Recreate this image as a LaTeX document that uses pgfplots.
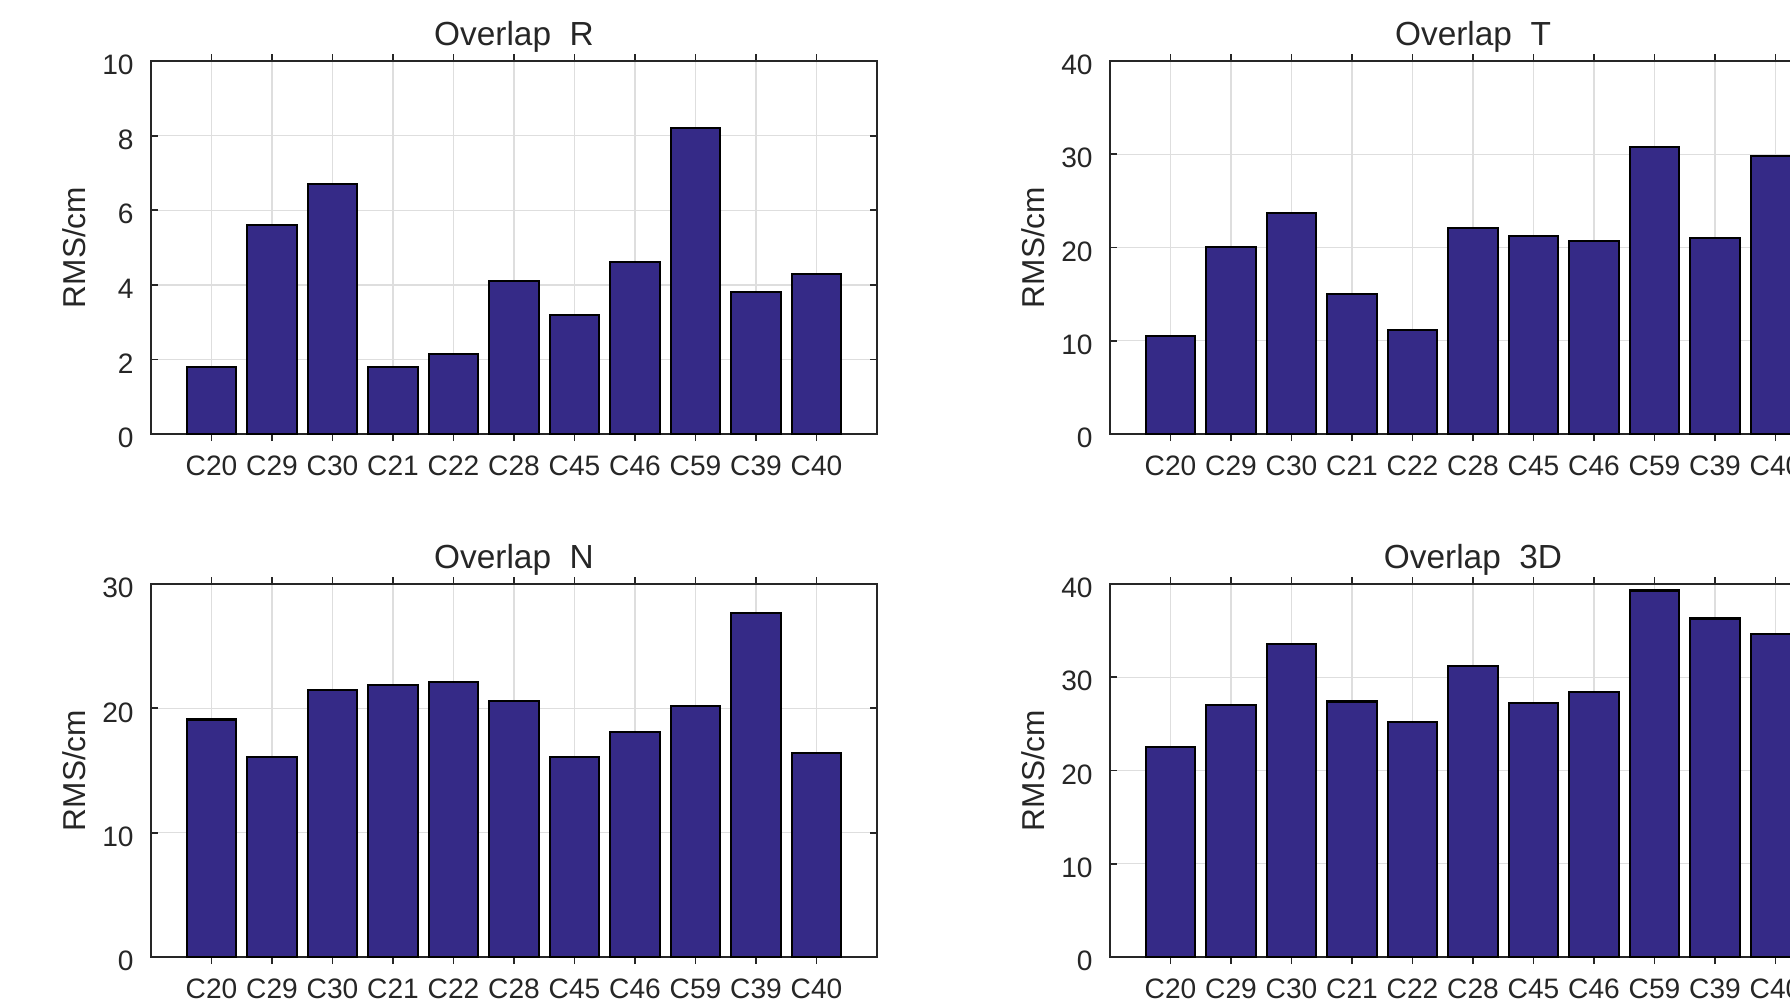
\documentclass[border=0pt]{standalone}
\usepackage{fontspec}
\setmainfont{Liberation Sans}
\usepackage{pgfplots}
\usepackage{pgfplotstable}
\pgfplotsset{compat=1.18}
\definecolor{barblue}{RGB}{53,42,135}
\definecolor{axgray}{RGB}{38,38,38}
\definecolor{gridgray}{RGB}{222,222,222}

\pgfplotstableread{
x y
1 1.8
2 5.6
3 6.7
4 1.8
5 2.15
6 4.1
7 3.2
8 4.6
9 8.2
10 3.8
11 4.3
}\dataR

\pgfplotstableread{
x y
1 10.5
2 20.1
3 23.7
4 15.0
5 11.2
6 22.1
7 21.2
8 20.7
9 30.8
10 21.0
11 29.8
}\dataT

\pgfplotstableread{
x y
1 19.1
2 16.1
3 21.5
4 21.9
5 22.1
6 20.6
7 16.1
8 18.1
9 20.2
10 27.7
11 16.4
}\dataN

\pgfplotstableread{
x y
1 22.5
2 27.0
3 33.6
4 27.4
5 25.2
6 31.2
7 27.2
8 28.4
9 39.3
10 36.3
11 34.6
}\dataD

\pgfplotsset{
  every axis title shift=0pt,
  panel/.style={
    scale only axis, width=7.26cm, height=3.73cm,
    xmin=0, xmax=12, ymin=0,
    xtick={1,...,11},
    xticklabels={C20,C29,C30,C21,C22,C28,C45,C46,C59,C39,C40},
    tick align=inside, xtick pos=both, ytick pos=both,
    major tick length=0.7mm,
    grid=major, major grid style={gridgray, line width=0.4pt},
    axis line style={axgray, line width=0.6pt},
    every tick/.style={axgray, line width=0.5pt},
    tick label style={font=\fontsize{8}{9}\selectfont, text=axgray},
    xticklabel style={yshift=-0.25mm},
    yticklabel style={xshift=-0.5mm, yshift=-0.4mm},
    /pgf/number format/assume math mode=true,
    ylabel={RMS/cm},
    ylabel style={at={(axis description cs:-0.106,0.5)}, anchor=center, font=\fontsize{9}{10}\selectfont, text=axgray},
    title style={at={(axis description cs:0.5,1)}, anchor=center, yshift=2.4mm, font=\fontsize{9.5}{11}\selectfont, text=axgray},
    ybar, bar width=0.82,
  },
  bars/.style={fill=barblue, draw=black, line width=0.6pt},
}

\begin{document}
\begin{tikzpicture}
\path[use as bounding box, clip] (0,0) rectangle (17.9,-10.06);

\begin{axis}[panel, at={(1.51cm,-0.61cm)}, anchor=north west,
  ymax=10, ytick={0,2,...,10}, title={Overlap\ \ R}]
\addplot[bars] table[x=x,y=y]{\dataR};
\end{axis}

\begin{axis}[panel, at={(11.10cm,-0.61cm)}, anchor=north west,
  ymax=40, ytick={0,10,...,40}, title={Overlap\ \ T}]
\addplot[bars] table[x=x,y=y]{\dataT};
\end{axis}

\begin{axis}[panel, at={(1.51cm,-5.84cm)}, anchor=north west,
  ymax=30, ytick={0,10,...,30}, title={Overlap\ \ N}]
\addplot[bars] table[x=x,y=y]{\dataN};
\end{axis}

\begin{axis}[panel, at={(11.10cm,-5.84cm)}, anchor=north west,
  ymax=40, ytick={0,10,...,40}, title={Overlap\ \ 3D}]
\addplot[bars] table[x=x,y=y]{\dataD};
\end{axis}
\end{tikzpicture}
\end{document}
